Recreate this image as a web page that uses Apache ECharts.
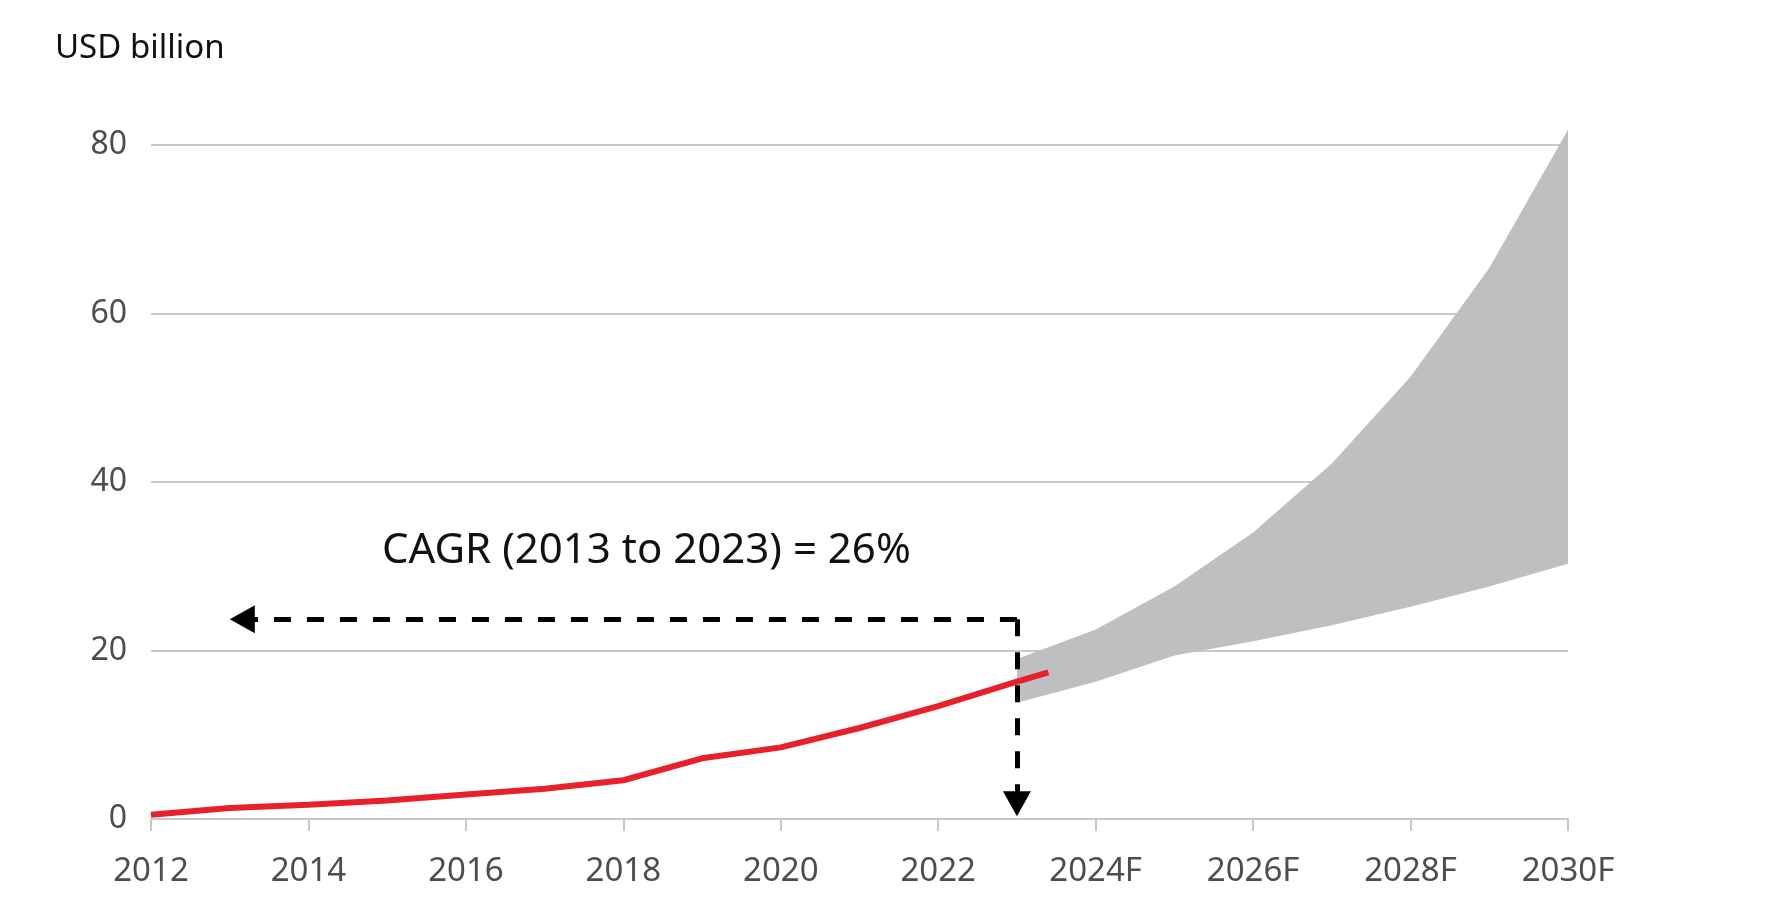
<!DOCTYPE html>
<html>
<head>
<meta charset="utf-8">
<script src="https://cdn.jsdelivr.net/npm/echarts@6/dist/echarts.min.js"></script>
<style>
  html, body { margin: 0; padding: 0; background: #fff; }
  #chart { width: 1773px; height: 920px; }
</style>
</head>
<body>
<div id="chart"></div>
<script>
var myChart = echarts.init(document.getElementById('chart'));

// actual market size (red line)
var actualYears = [2012, 2013, 2014, 2015, 2016, 2017, 2018, 2019, 2020, 2021, 2022, 2023, 2023.4];
var actualValues = [0.5, 1.3, 1.7, 2.2, 2.9, 3.6, 4.6, 7.2, 8.5, 10.8, 13.4, 16.3, 17.4];

// forecast range (grey band)
var forecastYears = [2023, 2024, 2025, 2026, 2027, 2028, 2029, 2030];
var forecastLow = [13.8, 16.3, 19.4, 21.1, 23.0, 25.2, 27.6, 30.3];
var forecastHigh = [19.0, 22.5, 27.6, 34.0, 42.2, 52.5, 65.4, 81.8];

// CAGR annotation
var cagrText = 'CAGR (2013 to 2023) = 26%';
var cagrFrom = 2013;
var cagrTo = 2023;
var cagrLevel = 23.7;

var labelColor = '#4d4d4d';
var gridColor = '#c9c9c9';

var bandData = forecastYears.map(function (y, i) { return [y, forecastLow[i], forecastHigh[i]]; });
var actualData = actualYears.map(function (y, i) { return [y, actualValues[i]]; });

// whole band drawn as one polygon, points from the axes
function renderBand(params, api) {
    if (params.dataIndex !== 0) return;
    var top = [], bottom = [];
    for (var i = 0; i < bandData.length; i++) {
        top.push(api.coord([bandData[i][0], bandData[i][2]]));
        bottom.unshift(api.coord([bandData[i][0], bandData[i][1]]));
    }
    return {
        type: 'polygon',
        shape: { points: top.concat(bottom) },
        style: { fill: '#bebfc1' }
    };
}

option = {
    animation: false,
    backgroundColor: '#fff',
    textStyle: { fontFamily: 'Noto Sans' },
    grid: {
        left: 151,
        right: 205,
        top: 145,
        bottom: 101
    },
    graphic: [{
        type: 'text',
        left: 55,
        top: 32,
        style: {
            text: 'USD billion',
            font: '33px "Noto Sans"',
            fill: '#111'
        }
    }, {
        type: 'text',
        left: 382,
        top: 530,
        style: {
            text: cagrText,
            font: '42px "Noto Sans"',
            fill: '#111'
        }
    }],
    xAxis: {
        type: 'value',
        min: 2012,
        max: 2030,
        interval: 2,
        splitLine: { show: false },
        axisLine: { show: true, lineStyle: { color: gridColor, width: 2 } },
        axisTick: { show: true, length: 12, lineStyle: { color: gridColor, width: 2 } },
        axisLabel: {
            margin: 36,
            fontSize: 33,
            color: labelColor,
            formatter: function (v) { return v >= 2024 ? v + 'F' : String(v); }
        }
    },
    yAxis: {
        type: 'value',
        min: 0,
        max: 80,
        interval: 20,
        axisLine: { show: false },
        axisTick: { show: false },
        splitLine: { lineStyle: { color: gridColor, width: 2 } },
        axisLabel: {
            margin: 24,
            fontSize: 32,
            color: labelColor
        }
    },
    series: [{
        name: 'range',
        type: 'custom',
        renderItem: renderBand,
        data: bandData,
        encode: { x: 0, y: [1, 2] },
        clip: false,
        silent: true,
        z: 1
    }, {
        name: 'actual',
        type: 'line',
        data: actualData,
        symbol: 'none',
        lineStyle: { color: '#e8202a', width: 6 },
        z: 3,
        markLine: {
            silent: true,
            symbol: ['none', 'triangle'],
            symbolSize: [28, 25],
            label: { show: false },
            lineStyle: { color: '#000', type: [17, 16], width: 5, cap: 'butt' },
            data: [
                [{ coord: [cagrTo, cagrLevel] }, { coord: [cagrFrom + 0.16, cagrLevel] }],
                [{ coord: [cagrTo, cagrLevel] }, { coord: [cagrTo, 1.8] }]
            ]
        }
    }]
};

myChart.setOption(option);
</script>
</body>
</html>
